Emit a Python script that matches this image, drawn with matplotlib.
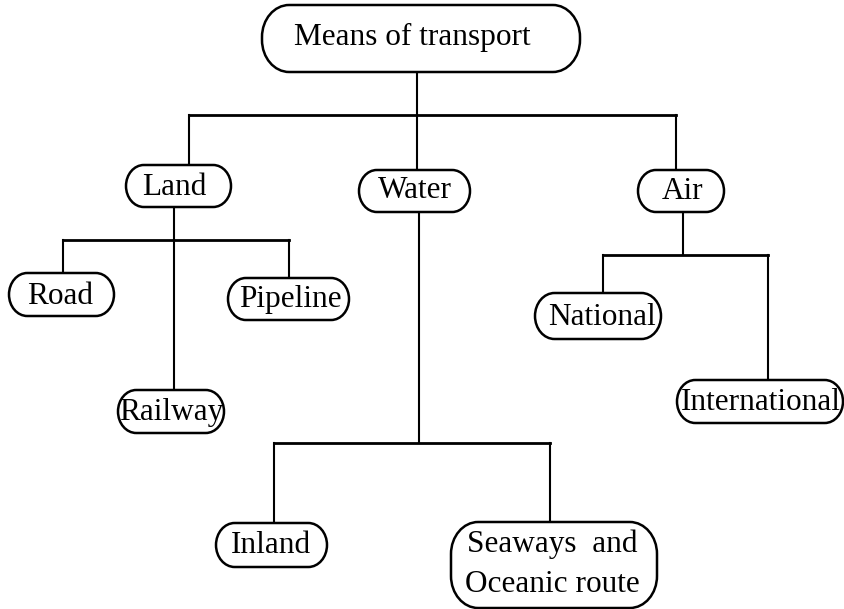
import matplotlib
matplotlib.use("Agg")
import matplotlib.pyplot as plt
from matplotlib.path import Path
from matplotlib.patches import PathPatch

# ---- tree content ----
labels = ["Means of transport", "Land", "Water", "Air",
          "Road", "Railway", "Pipeline",
          "Inland", "Seaways  and\nOceanic route",
          "National", "International"]
parents = [None, 0, 0, 0, 1, 1, 1, 2, 2, 3, 3]

# ---- layout (pixel coordinates, y downwards) ----
boxes = {  # x0, y0, x1, y1
    0: (262, 5, 580, 72),
    1: (126, 165, 231, 207),
    2: (359, 170, 470, 212),
    3: (638, 170, 724, 212),
    4: (9, 273, 114, 316),
    5: (118, 390, 224, 433),
    6: (228, 278, 349, 320),
    7: (216, 523, 327, 567),
    8: (451, 522, 657, 608),
    9: (535, 293, 661, 339),
    10: (677, 380, 843, 423),
}
text_pos = {  # centre x, baseline of first line
    0: (412, 45), 1: (174, 195), 2: (415, 198), 3: (683, 199),
    4: (60, 304), 5: (171, 420), 6: (290, 307),
    7: (271, 553), 8: (552, 552), 9: (602, 325), 10: (761, 410),
}
stem = {  # parent: stem x, bus y
    0: (417, 115), 1: (174, 240), 2: (419, 443), 3: (683, 255),
}
drop_x = {1: 189, 2: 417, 3: 676, 4: 63, 5: 174, 6: 289,
          7: 274, 8: 550, 9: 603, 10: 768}


def rounded_path(x0, y0, x1, y1, rx, ry):
    k = 0.5523
    verts = [
        (x0 + rx, y0), (x1 - rx, y0),
        (x1 - rx + k * rx, y0), (x1, y0 + ry - k * ry), (x1, y0 + ry),
        (x1, y1 - ry),
        (x1, y1 - ry + k * ry), (x1 - rx + k * rx, y1), (x1 - rx, y1),
        (x0 + rx, y1),
        (x0 + rx - k * rx, y1), (x0, y1 - ry + k * ry), (x0, y1 - ry),
        (x0, y0 + ry),
        (x0, y0 + ry - k * ry), (x0 + rx - k * rx, y0), (x0 + rx, y0),
        (x0 + rx, y0),
    ]
    codes = [Path.MOVETO, Path.LINETO,
             Path.CURVE4, Path.CURVE4, Path.CURVE4,
             Path.LINETO,
             Path.CURVE4, Path.CURVE4, Path.CURVE4,
             Path.LINETO,
             Path.CURVE4, Path.CURVE4, Path.CURVE4,
             Path.LINETO,
             Path.CURVE4, Path.CURVE4, Path.CURVE4,
             Path.CLOSEPOLY]
    return Path(verts, codes)


W, H = 845, 609
fig = plt.figure(figsize=(W / 100, H / 100), dpi=100)
ax = fig.add_axes([0, 0, 1, 1])
ax.set_xlim(0, W)
ax.set_ylim(H, 0)
ax.axis("off")

LINE = dict(color="black", lw=1.5, solid_capstyle="projecting")
BUS = dict(color="black", lw=2.0, solid_capstyle="projecting")

# connectors
for p, (sx, by) in stem.items():
    kids = [i for i, q in enumerate(parents) if q == p]
    ax.plot([sx, sx], [boxes[p][3], by], **LINE)
    xs = [drop_x[k] for k in kids]
    ax.plot([min(xs), max(xs)], [by, by], **BUS)
    for k in kids:
        ax.plot([drop_x[k], drop_x[k]], [by, boxes[k][1]], **LINE)

# boxes and labels
for i, lab in enumerate(labels):
    x0, y0, x1, y1 = boxes[i]
    h = y1 - y0
    ry = min(h / 2, 32)
    rx = min(ry * 0.85, 28)
    patch = PathPatch(rounded_path(x0, y0, x1, y1, rx, ry),
                      fc="white", ec="black", lw=1.8, zorder=3)
    ax.add_patch(patch)
    tx, ty = text_pos[i]
    for j, line in enumerate(lab.split("\n")):
        ax.text(tx, ty + 40 * j, line, ha="center", va="baseline",
                fontsize=22.5, family="Liberation Serif", zorder=4)

fig.savefig("out.png", dpi=100)
